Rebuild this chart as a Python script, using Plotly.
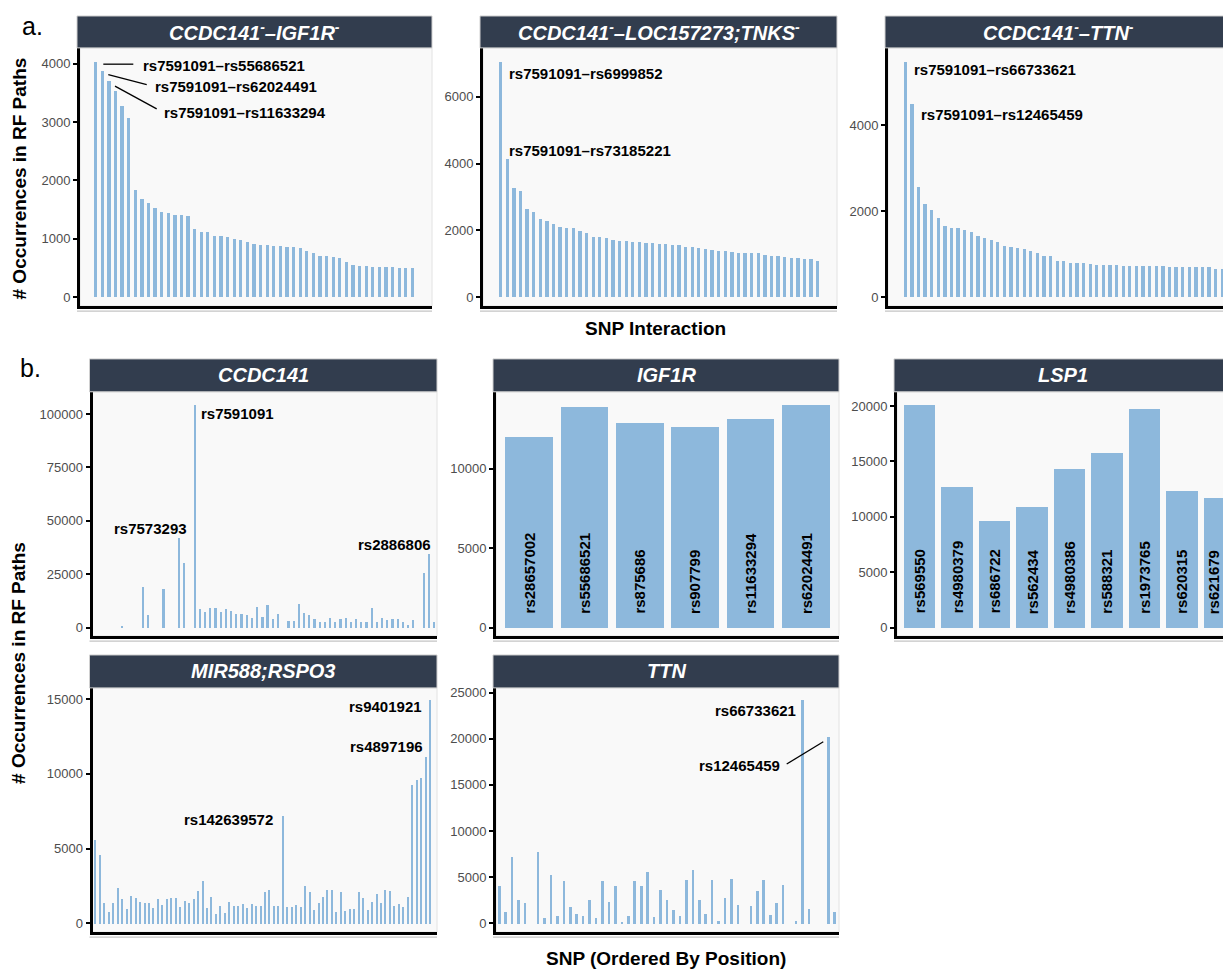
import plotly.graph_objects as go

# page has an 8px body margin: draw in page pixels, offset into the figure
OFF = 8
W, H = 1231 - OFF, 969 - OFF

# ---------------- data ----------------
a1_values = [4034, 3880, 3709, 3544, 3271, 3071, 1835, 1681, 1624, 1538, 1470, 1436, 1413, 1413, 1390,
             1162, 1111, 1111, 1048, 1048, 1037, 997, 986, 952, 906, 895, 889, 883, 872, 860, 855, 838,
             792, 764, 701, 701, 695, 667, 598, 547, 541, 530, 519, 513, 513, 513, 501, 501, 501]
a1_labels = ["rs7591091–rs55686521", "rs7591091–rs62024491", "rs7591091–rs11633294"]

a2_values = [7045, 4139, 3274, 3184, 2627, 2537, 2328, 2289, 2199, 2090, 2080, 2060, 1970, 1910, 1811,
             1801, 1761, 1711, 1682, 1672, 1642, 1642, 1632, 1612, 1602, 1592, 1572, 1552, 1502, 1493,
             1473, 1453, 1403, 1383, 1373, 1353, 1333, 1323, 1313, 1313, 1264, 1244, 1234, 1194, 1184,
             1164, 1154, 1144, 1095]
a2_labels = ["rs7591091–rs6999852", "rs7591091–rs73185221"]

a3_values = [5478, 4503, 2578, 2164, 2023, 1852, 1664, 1617, 1609, 1570, 1523, 1414, 1383, 1328, 1289,
             1188, 1164, 1156, 1125, 1078, 1023, 961, 953, 844, 844, 805, 797, 789, 766, 758, 758, 750,
             742, 734, 734, 727, 727, 727, 719, 719, 711, 711, 711, 703, 703, 695, 695, 664, 656]
a3_labels = ["rs7591091–rs66733621", "rs7591091–rs12465459"]

ccdc141_values = [0, 0, 0, 0, 0, 500, 0, 0, 0, 19000, 5900, 0, 0, 18000, 0, 0, 42300, 30500, 0, 104500,
                  9000, 7500, 9300, 9200, 7600, 8700, 8100, 6700, 6700, 6200, 4700, 9800, 5100, 10700,
                  4200, 6700, 0, 3400, 3400, 11400, 7200, 5900, 4200, 2600, 3000, 4800, 3000, 4000, 4800,
                  2600, 4200, 3000, 2800, 9200, 2800, 4700, 3900, 4000, 4000, 2800, 1200, 3600, 0, 25700,
                  34500, 3000]
ccdc141_labels = {"rs7573293": 17, "rs7591091": 20, "rs2886806": 65}

igf1r_snps = ["rs28657002", "rs55686521", "rs875686", "rs907799", "rs11633294", "rs62024491"]
igf1r_values = [12008, 13933, 12929, 12636, 13138, 14059]

lsp1_snps = ["rs569550", "rs4980379", "rs686722", "rs562434", "rs4980386", "rs588321", "rs1973765",
             "rs620315", "rs621679"]
lsp1_values = [20150, 12684, 9685, 10885, 14363, 15742, 19790, 12384, 11724]

mir588_values = [5600, 4555, 1355, 780, 1400, 2400, 1620, 980, 1820, 1730, 1470, 1400, 1380, 1020, 1620,
                 1245, 1645, 1710, 1710, 1090, 1490, 1355, 1645, 2200, 2820, 1020, 1755, 645, 1180, 730,
                 1470, 1155, 1180, 1335, 1020, 1335, 1180, 1155, 2090, 2220, 1180, 1150, 7220, 1110, 1110,
                 1245, 1110, 2510, 2110, 910, 1400, 1755, 2270, 2270, 755, 2130, 865, 1000, 1000, 2130,
                 1690, 890, 1470, 2000, 1355, 2245, 2155, 1180, 1335, 1110, 1780, 9290, 9600, 9710, 11155,
                 14930, 0]
mir588_labels = {"rs142639572": 43, "rs4897196": 75, "rs9401921": 76}

ttn_values = [4030, 1300, 7190, 2590, 2230, 0, 7770, 610, 5250, 830, 4570, 1760, 1010, 790, 2520, 650,
              4570, 2370, 4030, 220, 790, 4640, 4060, 5540, 680, 3670, 2590, 1510, 790, 4680, 5830, 2520,
              1010, 4710, 290, 2730, 4860, 2010, 0, 1870, 3490, 4680, 940, 2270, 4210, 0, 290, 24170,
              1580, 0, 0, 20250, 1260, 2370]
ttn_labels = {"rs66733621": 48, "rs12465459": 52}

titles = ["CCDC141<sup>-</sup>–IGF1R<sup>-</sup>", "CCDC141<sup>-</sup>–LOC157273;TNKS<sup>-</sup>",
          "CCDC141<sup>-</sup>–TTN<sup>-</sup>", "CCDC141", "IGF1R", "LSP1", "MIR588;RSPO3", "TTN"]

# ---------------- style ----------------
BAR = "#8DB8DC"
STRIP = "#323D4E"
PANEL_BG = "#F9F9F9"
FONT = "Liberation Sans, Arial, Helvetica, sans-serif"
TICK_GREY = "#4D4D4D"

# plot-area boxes in page pixels: (left, right, top, bottom)
panels = [
    dict(vals=a1_values, box=(80, 432, 45, 304), xr=[-1.38, 51.98], yr=[-154, 4274],
         tv=[0, 1000, 2000, 3000, 4000], bw=0.5),
    dict(vals=a2_values, box=(483, 837, 45, 304), xr=[-1.68, 51.92], yr=[-269, 7463],
         tv=[0, 2000, 4000, 6000], bw=0.5),
    dict(vals=a3_values, box=(888, 1231, 45, 304), xr=[-1.62, 50.32], yr=[-209, 5803],
         tv=[0, 2000, 4000], bw=0.5),
    dict(vals=ccdc141_values, box=(92.5, 437, 390, 635), xr=[0.4, 66.6], yr=[-3871, 110401],
         tv=[0, 25000, 50000, 75000, 100000], bw=0.33),
    dict(vals=igf1r_values, box=(496, 839, 390, 635), xr=[0.4, 6.6], yr=[-521, 14850],
         tv=[0, 5000, 10000], bw=0.86),
    dict(vals=lsp1_values, box=(897, 1231, 390, 635), xr=[0.4, 9.307], yr=[-746, 21286],
         tv=[0, 5000, 10000, 15000, 20000], bw=0.845),
    dict(vals=mir588_values, box=(92.5, 437, 687, 932), xr=[0.4, 77.6], yr=[-580, 15753],
         tv=[0, 5000, 10000, 15000], bw=0.34),
    dict(vals=ttn_values, box=(496, 839, 687, 932), xr=[0.49, 53.66], yr=[-939, 25507],
         tv=[0, 5000, 10000, 15000, 20000, 25000], bw=0.4),
]
strip_boxes = [(77, 432, 13, 45), (480, 837, 13, 45), (885, 1231, 13, 45),
               (89.5, 437, 357, 390), (493, 839, 357, 390), (894, 1231, 357, 390),
               (89.5, 437, 654, 687), (493, 839, 654, 687)]

fig = go.Figure()
layout = dict(width=W, height=H, margin=dict(l=0, r=0, t=0, b=0),
              paper_bgcolor="white", plot_bgcolor="rgba(0,0,0,0)",
              font=dict(family=FONT), showlegend=False, bargap=0)
shapes = []
annotations = []


def px_x(p):
    return min(1.0, (p - OFF) / W)


def px_y(p):
    return 1 - (p - OFF) / H


for k, p in enumerate(panels, start=1):
    sfx = "" if k == 1 else str(k)
    x0, x1, yt, yb = p["box"]
    xs = list(range(1, len(p["vals"]) + 1))
    fig.add_trace(go.Bar(x=xs, y=p["vals"], width=p["bw"], marker=dict(color=BAR, line=dict(width=0)),
                         xaxis="x" + sfx, yaxis="y" + sfx, hoverinfo="skip"))
    layout["xaxis" + sfx] = dict(domain=[px_x(x0), px_x(x1)], range=p["xr"], anchor="y" + sfx,
                                 showline=True, linecolor="black", linewidth=3, showticklabels=False,
                                 ticks="", showgrid=False, zeroline=False, fixedrange=True)
    layout["yaxis" + sfx] = dict(domain=[px_y(yb), px_y(yt)], range=p["yr"], anchor="x" + sfx,
                                 showline=True, linecolor="black", linewidth=3, ticks="outside",
                                 ticklen=4, tickwidth=2, tickcolor="black", tickvals=p["tv"],
                                 tickformat="d", tickfont=dict(size=13, color=TICK_GREY, family=FONT),
                                 showgrid=False, zeroline=False, fixedrange=True)
    # panel background with light border
    shapes.append(dict(type="rect", xref="paper", yref="paper", x0=px_x(x0), x1=px_x(x1),
                       y0=px_y(yb), y1=px_y(yt), fillcolor=PANEL_BG, line=dict(color="#E2E2E2", width=1),
                       layer="below"))
    # soft shadow under bottom axis line
    shapes.append(dict(type="line", xref="paper", yref="paper", x0=px_x(x0 - 3), x1=px_x(x1),
                       y0=px_y(yb + 5), y1=px_y(yb + 5), line=dict(color="#C4C4C4", width=1.2)))

# strips
for (sx0, sx1, st, sb), title in zip(strip_boxes, titles):
    shapes.append(dict(type="rect", xref="paper", yref="paper", x0=px_x(sx0), x1=px_x(sx1),
                       y0=px_y(sb), y1=px_y(st), fillcolor=STRIP, line=dict(color="#D0D0D0", width=1)))
    annotations.append(dict(text="<b><i>" + title + "</i></b>", xref="paper", yref="paper",
                            x=px_x((sx0 + sx1) / 2), y=px_y((st + sb) / 2), xanchor="center",
                            yanchor="middle", showarrow=False, font=dict(size=20, color="white", family=FONT)))

LABEL_FONT = dict(size=15, color="black", family=FONT)


def label(k, idx, vals, text, xanchor, xshift, yshift):
    sfx = "" if k == 1 else str(k)
    annotations.append(dict(text="<b>" + text + "</b>", xref="x" + sfx, yref="y" + sfx, x=idx,
                            y=vals[idx - 1], xanchor=xanchor, yanchor="middle", xshift=xshift,
                            yshift=yshift, showarrow=False, font=LABEL_FONT))


def leader(k, idx, vals, dx0, dx1, dy0, dy1):
    sfx = "" if k == 1 else str(k)
    shapes.append(dict(type="line", xref="x" + sfx, yref="y" + sfx, xsizemode="pixel",
                       ysizemode="pixel", xanchor=idx, yanchor=vals[idx - 1], x0=dx0, x1=dx1,
                       y0=dy0, y1=dy1, line=dict(color="black", width=1.3)))


# panel a labels
label(1, 1, a1_values, a1_labels[0], "left", 45, -3.3)
label(1, 2, a1_values, a1_labels[1], "left", 50.4, -16)
label(1, 3, a1_values, a1_labels[2], "left", 52.8, -31.3)
leader(1, 1, a1_values, 7.6, 37.6, -2.3, -2.3)
leader(1, 2, a1_values, 6, 44.4, -3.7, -13.7)
leader(1, 3, a1_values, 6.1, 47.8, -5.3, -28)

label(2, 1, a2_values, a2_labels[0], "left", 6.6, -11.7)
label(2, 2, a2_values, a2_labels[1], "left", 0, 8)

label(3, 1, a3_values, a3_labels[0], "left", 6.7, -7.7)
label(3, 2, a3_values, a3_labels[1], "left", 6.8, -10.7)

# panel b labels
label(4, ccdc141_labels["rs7591091"], ccdc141_values, "rs7591091", "left", 4.5, -9.3)
label(4, ccdc141_labels["rs7573293"], ccdc141_values, "rs7573293", "right", 10.4, 9.3)
label(4, ccdc141_labels["rs2886806"], ccdc141_values, "rs2886806", "right", 4.3, 9.7)

label(7, mir588_labels["rs142639572"], mir588_values, "rs142639572", "right", -7.6, -4)
label(7, mir588_labels["rs9401921"], mir588_values, "rs9401921", "right", -5.8, -6.4)
label(7, mir588_labels["rs4897196"], mir588_values, "rs4897196", "right", -0.3, 10)

label(8, ttn_labels["rs66733621"], ttn_values, "rs66733621", "right", -4.8, -9.9)
label(8, ttn_labels["rs12465459"], ttn_values, "rs12465459", "right", -46.6, -29.3)
leader(8, ttn_labels["rs12465459"], ttn_values, -5, -41.6, -5.3, -27.6)

# in-bar rotated labels (the last LSP1 label sits at the clipped edge; nudge it inside)
for k, snps in ((5, igf1r_snps), (6, lsp1_snps)):
    for i, s in enumerate(snps, start=1):
        nudge = -6 if (k == 6 and i == len(snps)) else 0
        annotations.append(dict(text="<b>" + s + "</b>", xref="x" + str(k), yref="y" + str(k), x=i, y=0,
                                xanchor="center", yanchor="bottom", yshift=12, xshift=nudge,
                                textangle=-90, showarrow=False, font=LABEL_FONT))

# axis titles and panel letters
TITLE_FONT = dict(size=19, color="black", family=FONT)
annotations += [
    dict(text="<b># Occurrences in RF Paths</b>", xref="paper", yref="paper", x=px_x(19), y=px_y(176),
         textangle=-90, xanchor="center", yanchor="middle", showarrow=False, font=TITLE_FONT),
    dict(text="<b># Occurrences in RF Paths</b>", xref="paper", yref="paper", x=px_x(19), y=px_y(662),
         textangle=-90, xanchor="center", yanchor="middle", showarrow=False, font=TITLE_FONT),
    dict(text="<b>SNP Interaction</b>", xref="paper", yref="paper", x=px_x(655), y=px_y(326),
         xanchor="center", yanchor="middle", showarrow=False, font=TITLE_FONT),
    dict(text="<b>SNP (Ordered By Position)</b>", xref="paper", yref="paper", x=px_x(666), y=px_y(958),
         xanchor="center", yanchor="middle", showarrow=False, font=TITLE_FONT),
    dict(text="a.", xref="paper", yref="paper", x=px_x(32), y=px_y(23), xanchor="center",
         yanchor="middle", showarrow=False, font=dict(size=25, color="black", family=FONT)),
    dict(text="b.", xref="paper", yref="paper", x=px_x(30), y=px_y(366), xanchor="center",
         yanchor="middle", showarrow=False, font=dict(size=25, color="black", family=FONT)),
]

layout["shapes"] = shapes
layout["annotations"] = annotations
fig.update_layout(**layout)
fig.write_html("out.html")
